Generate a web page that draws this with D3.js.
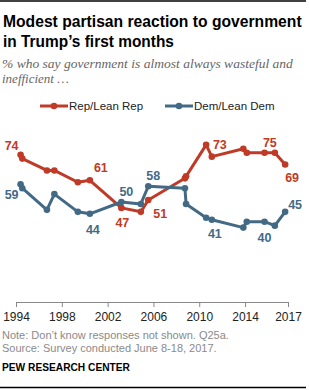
<!DOCTYPE html>
<html>
<head>
<meta charset="utf-8">
<script src="https://cdn.jsdelivr.net/npm/d3@7"></script>
<style>
  body { margin: 0; background: #fff; }
  svg { display: block; }
</style>
</head>
<body>
<div class="container"></div>
<script>
// survey dates (decimal years) and shares for each party group
const dates = [1994.4, 1994.55, 1996.7, 1997.35, 1999.4, 2000.45, 2003.2, 2004.9, 2005.55,
               2008.75, 2008.85, 2010.6, 2011.1, 2013.85, 2014.15, 2015.7, 2016.6, 2017.5];
const repValues = [74, 72, 66, 66, 60, 61, 47, 45, 51, 62, 63, 79, 73, 77, 75, 75, 75, 69];
const demValues = [59, 57, 46, 54, 45, 44, 50, 49, 58, 57, 49, 42, 41, 37, 40, 40, 38, 45];
const seriesNames = ["Rep/Lean Rep", "Dem/Lean Dem"];
// which points carry a value label
const repLabelIdx = [0, 5, 6, 8, 12, 16, 17];
const demLabelIdx = [0, 5, 6, 8, 12, 15, 17];
const xTickValues = [1994, 1998, 2002, 2006, 2010, 2014, 2017.75];
const xTickLabels = ["1994", "1998", "2002", "2006", "2010", "2014", "2017"];

const w = 309;
const h = 390;
const red = "#bf3a27";
const blue = "#436a85";

// label offsets from their point (dx, dy to text baseline)
const repLabelPos = {0: [-9, -5], 5: [11, -8], 6: [1, 19], 8: [12, 18], 12: [8, -8], 16: [-5, -6], 17: [7, 17]};
const demLabelPos = {0: [-9, 15], 5: [3, 20], 6: [5, -6], 8: [5, -6], 12: [3, 18], 15: [0, 20], 17: [10, -3]};

const svg = d3.select(".container")
  .append("svg")
  .attr("width", w)
  .attr("height", h);

svg.append("line").attr("x1", 0).attr("x2", 306).attr("y1", 1).attr("y2", 1)
  .attr("stroke", "#000").attr("stroke-width", 1.5);
svg.append("line").attr("x1", 0).attr("x2", 306).attr("y1", 387.5).attr("y2", 387.5)
  .attr("stroke", "#000").attr("stroke-width", 1.5);

// squeeze a text line horizontally to a given width
function fitText(sel, x, y, width) {
  const natural = sel.node().getComputedTextLength();
  sel.attr("x", 0).attr("y", 0)
    .attr("transform", "translate(" + x + "," + y + ") scale(" + (width / natural) + ",1)");
}

const titleFont = "bold 16.5px 'Liberation Sans', Arial, sans-serif";
const title = ["Modest partisan reaction to government", "in Trump\u2019s first months"];
fitText(svg.append("text").text(title[0]).style("font", titleFont).attr("fill", "#000"), 3, 26.5, 299);
fitText(svg.append("text").text(title[1]).style("font", titleFont).attr("fill", "#000"), 3, 46.5, 171);

const subFont = "italic 13px 'Liberation Serif', 'DejaVu Serif', serif";
const subtitle = ["% who say government is almost always wasteful and", "inefficient \u2026"];
fitText(svg.append("text").text(subtitle[0]).style("font", subFont).attr("fill", "#666"), 2, 68, 291);
svg.append("text").text(subtitle[1])
  .attr("x", 2).attr("y", 83)
  .style("font", subFont)
  .attr("fill", "#666");

const xScale = d3.scaleLinear()
  .domain([1994, 2017.75])
  .range([16, 288]);
const yScale = d3.scaleLinear()
  .domain([30, 85])
  .range([241.4, 133]);

const xAxis = d3.axisBottom(xScale)
  .tickValues(xTickValues)
  .tickFormat((d, i) => xTickLabels[i])
  .tickSize(5)
  .tickSizeOuter(0)
  .tickPadding(5);

const gx = svg.append("g")
  .attr("transform", "translate(0,302)")
  .call(xAxis);
gx.select(".domain").attr("stroke", "#888");
gx.selectAll(".tick line").attr("stroke", "#888");
gx.selectAll(".tick text")
  .attr("fill", "#222")
  .style("font", "12px 'Liberation Sans', Arial, sans-serif");

const series = [
  {name: seriesNames[0], values: repValues, color: red, labels: repLabelIdx, pos: repLabelPos},
  {name: seriesNames[1], values: demValues, color: blue, labels: demLabelIdx, pos: demLabelPos}
];

const line = d3.line()
  .x((d) => xScale(d[0]))
  .y((d) => yScale(d[1]));

series.forEach((s) => {
  const pts = dates.map((d, i) => [d, s.values[i]]);
  svg.append("path")
    .datum(pts)
    .attr("d", line)
    .attr("fill", "none")
    .attr("stroke", s.color)
    .attr("stroke-width", 3)
    .attr("stroke-linejoin", "round");
  svg.selectAll(null)
    .data(pts)
    .enter()
    .append("circle")
    .attr("cx", (d) => xScale(d[0]))
    .attr("cy", (d) => yScale(d[1]))
    .attr("r", 3.3)
    .attr("fill", s.color);
  svg.selectAll(null)
    .data(s.labels)
    .enter()
    .append("text")
    .attr("x", (i) => xScale(dates[i]) + s.pos[i][0])
    .attr("y", (i) => yScale(s.values[i]) + s.pos[i][1])
    .attr("text-anchor", "middle")
    .attr("fill", s.color)
    .style("font", "bold 12.5px 'Liberation Sans', Arial, sans-serif")
    .text((i) => s.values[i]);
});

// legend
const legendX = [40, 165];
series.forEach((s, k) => {
  const g = svg.append("g").attr("transform", "translate(" + legendX[k] + ",106)");
  g.append("line").attr("x1", 0).attr("x2", 28).attr("y1", 0).attr("y2", 0)
    .attr("stroke", s.color).attr("stroke-width", 3);
  g.append("circle").attr("cx", 14).attr("cy", 0).attr("r", 3.3).attr("fill", s.color);
  g.append("text").text(s.name)
    .attr("x", 29).attr("y", 4)
    .attr("fill", "#222")
    .style("font", "11.5px 'Liberation Sans', Arial, sans-serif");
});

const notes = ["Note: Don\u2019t know responses not shown. Q25a.", "Source: Survey conducted June 8-18, 2017."];
svg.append("text").text(notes[0])
  .attr("x", 2).attr("y", 338.5)
  .attr("fill", "#8a8a8a")
  .style("font", "11px 'Liberation Sans', Arial, sans-serif");
svg.append("text").text(notes[1])
  .attr("x", 2).attr("y", 351.5)
  .attr("fill", "#8a8a8a")
  .style("font", "11px 'Liberation Sans', Arial, sans-serif");
svg.append("text").text("PEW RESEARCH CENTER")
  .attr("x", 2).attr("y", 371)
  .attr("fill", "#000")
  .style("font", "bold 10.2px 'Liberation Sans', Arial, sans-serif");
</script>
</body>
</html>
